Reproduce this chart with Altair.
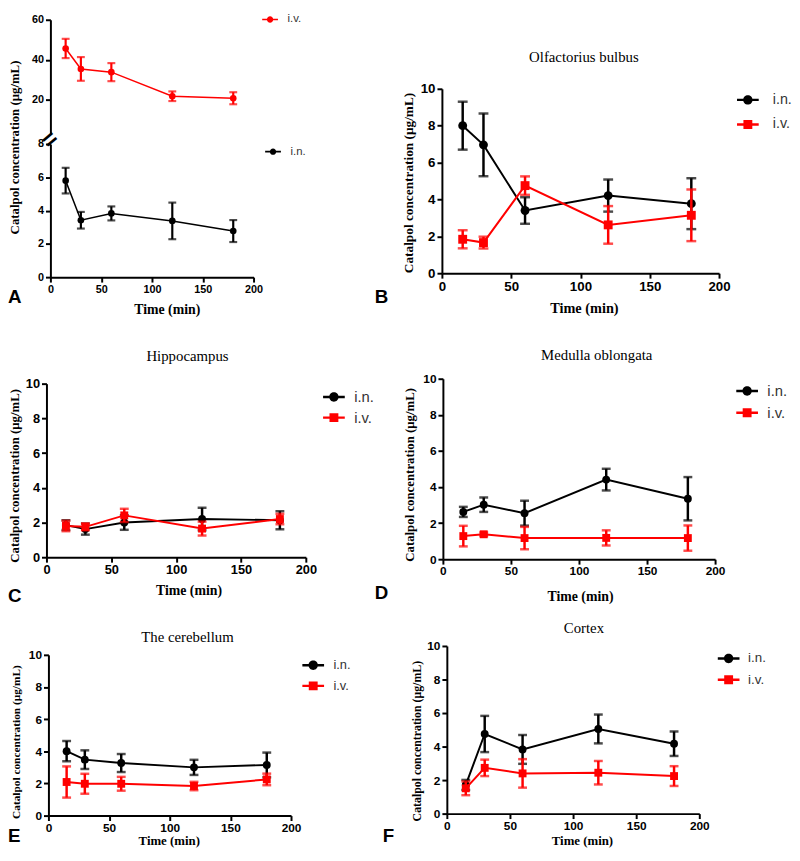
import altair as alt
import pandas as pd

# ---------------- data ----------------
times = [15, 30, 60, 120, 180]
x_ticks = [0, 50, 100, 150, 200]
y_ticks = [0, 2, 4, 6, 8, 10]
a_upper_ticks = [20, 40, 60]
a_lower_ticks = [0, 2, 4, 6, 8]
x_title = "Time (min)"
y_title = "Catalpol concentration (μg/mL)"
panel_letters = ["A", "B", "C", "D", "E", "F"]
panel_titles = ["", "Olfactorius bulbus", "Hippocampus", "Medulla oblongata", "The cerebellum", "Cortex"]

a_iv_mean = [45.7, 35.5, 33.9, 21.9, 20.9]
a_iv_sd = [4.8, 5.9, 4.5, 2.4, 3.0]
a_in_mean = [5.8, 3.42, 3.83, 3.38, 2.77]
a_in_sd = [0.77, 0.5, 0.42, 1.1, 0.66]

b_in_mean = [8.0, 6.96, 3.4, 4.21, 3.77]
b_in_sd = [1.3, 1.7, 0.72, 0.87, 1.38]
b_iv_mean = [1.84, 1.66, 4.75, 2.62, 3.14]
b_iv_sd = [0.49, 0.32, 0.5, 1.02, 1.4]

c_in_mean = [1.85, 1.62, 2.0, 2.2, 2.13]
c_in_sd = [0.28, 0.32, 0.42, 0.65, 0.52]
c_iv_mean = [1.8, 1.75, 2.41, 1.65, 2.2]
c_iv_sd = [0.3, 0.2, 0.38, 0.4, 0.3]

d_in_mean = [2.62, 3.02, 2.55, 4.41, 3.35]
d_in_sd = [0.28, 0.4, 0.69, 0.6, 1.2]
d_iv_mean = [1.28, 1.38, 1.17, 1.18, 1.17]
d_iv_sd = [0.57, 0.1, 0.62, 0.42, 0.7]

e_in_mean = [4.01, 3.48, 3.27, 3.0, 3.15]
e_in_sd = [0.63, 0.58, 0.56, 0.47, 0.77]
e_iv_mean = [2.09, 1.98, 1.98, 1.84, 2.25]
e_iv_sd = [0.97, 0.62, 0.43, 0.26, 0.36]

f_in_mean = [1.71, 4.75, 3.83, 5.05, 4.17]
f_in_sd = [0.3, 1.08, 0.86, 0.86, 0.73]
f_iv_mean = [1.51, 2.73, 2.4, 2.44, 2.24]
f_iv_sd = [0.41, 0.49, 0.85, 0.7, 0.59]

# ---------------- style ----------------
SANS = "Liberation Sans"
SERIF = "Liberation Serif"
BLACK = "#000000"
RED = "#ff0000"
W, H = 792, 845

LINE_RECT = "M-2.2,-0.24H2.2V0.24H-2.2Z"
LEG_CIRCLE = LINE_RECT + "M-0.95,0A0.95,0.95 0 1,1 0.95,0A0.95,0.95 0 1,1 -0.95,0Z"
LEG_SQUARE = LINE_RECT + "M-0.9,-0.9H0.9V0.9H-0.9Z"
A_LINE = "M-2,-0.2H2V0.2H-2Z"
A_CIRCLE = A_LINE + "M-0.8,0A0.8,0.8 0 1,1 0.8,0A0.8,0.8 0 1,1 -0.8,0Z"


def frame(mean, sd, name):
    return pd.DataFrame({"time": times, "mean": mean, "sd": sd, "series": name})


def build_panel(p):
    xr, yr = p["xr"], p["yr"]
    lfs = p.get("lfs", 12)
    if p.get("xt") is not None:
        xaxis = alt.Axis(orient="bottom", offset=yr[0] - H, values=x_ticks, title=x_title,
                         titleX=p["xt"][0], titleY=p["xt"][1], titleBaseline="middle",
                         titleAlign="center", titleFontSize=p.get("xfs", 14),
                         labelFlush=False, labelFontSize=lfs)
    else:
        xaxis = None
    xscale = alt.Scale(domain=[0, 200], range=xr, nice=False, zero=False)
    yscale = alt.Scale(domain=p["ydom"], range=yr, nice=False, zero=False)
    if p.get("yt") is not None:
        yaxis = alt.Axis(orient="left", offset=-xr[0], values=p["yticks"], title=y_title,
                         titleX=p["yt"][0], titleY=p["yt"][1], titleBaseline="middle",
                         titleAlign="center", titleAngle=270, titleFontSize=p.get("yfs", 13),
                         labelFontSize=lfs)
    else:
        yaxis = alt.Axis(orient="left", offset=-xr[0], values=p["yticks"], title=None,
                         labelFontSize=lfs)
    xenc = alt.X("time:Q", scale=xscale, axis=xaxis)

    layers = []
    for s in p["series"]:
        df = s["df"]
        err = (
            alt.Chart(df)
            .transform_calculate(lo="datum.mean - datum.sd", hi="datum.mean + datum.sd")
            .mark_errorbar(ticks=True, size=s["cap"], thickness=s["eth"], color=s["color"])
            .encode(x=xenc, y=alt.Y("lo:Q", scale=yscale, axis=yaxis), y2=alt.Y2("hi:Q"))
        )
        line = alt.Chart(df).mark_line(color=s["color"], strokeWidth=s["lw"]).encode(
            x=xenc, y=alt.Y("mean:Q", scale=yscale, axis=yaxis))
        pts = alt.Chart(df).mark_point(filled=True, opacity=1, shape=s["shape"], size=s["size"],
                                       color=s["color"]).encode(
            x=xenc, y=alt.Y("mean:Q", scale=yscale, axis=yaxis))
        layers += [err, line, pts]

    lg = p["legend"]
    leg = alt.Legend(orient="none", legendX=lg["x"], legendY=lg["y"], title=None,
                     labelFont=SANS, labelFontSize=lg["fs"], labelColor="#333333",
                     symbolSize=lg["ss"], labelOffset=lg["lo"], rowPadding=lg["rp"],
                     symbolStrokeWidth=0, symbolOpacity=1, padding=0)
    all_df = pd.concat([s["df"] for s in p["series"]])
    legend_layer = (
        alt.Chart(all_df)
        .transform_filter("false")
        .mark_point(filled=True, opacity=1)
        .encode(
            x=xenc, y=alt.Y("mean:Q", scale=yscale, axis=yaxis),
            color=alt.Color("series:N", scale=alt.Scale(domain=lg["names"], range=lg["colors"]), legend=leg),
            shape=alt.Shape("series:N", scale=alt.Scale(domain=lg["names"], range=lg["paths"]), legend=leg),
        )
    )
    layers.append(legend_layer)
    return alt.layer(*layers)


def text_layer(label, x, y, font, size, weight="normal", align="center", angle=0):
    return (
        alt.Chart(pd.DataFrame({"label": [label]}))
        .mark_text(font=font, fontSize=size, fontWeight=weight, align=align, baseline="middle",
                   color=BLACK, angle=angle)
        .encode(text="label:N", x=alt.value(x), y=alt.value(y))
    )


def in_series(mean, sd, size=81, lw=2, cap=10, eth=2.5, shape="circle"):
    return dict(df=frame(mean, sd, "i.n."), color=BLACK, shape=shape, size=size, lw=lw, cap=cap, eth=eth)


def iv_series(mean, sd, size=81, lw=2, cap=10, eth=2.5, shape="square"):
    return dict(df=frame(mean, sd, "i.v."), color=RED, shape=shape, size=size, lw=lw, cap=cap, eth=eth)


def two_legend(x, y, fs=14, rp=6, lo=13):
    return dict(names=["i.n.", "i.v."], colors=[BLACK, RED], paths=[LEG_CIRCLE, LEG_SQUARE],
                x=x, y=y, fs=fs, ss=100, lo=lo, rp=rp)


panel_a_up = build_panel(dict(
    xr=[43, 249], yr=[122, 6], ydom=[3, 60], yticks=a_upper_ticks, xt=None, yt=None, lfs=11,
    series=[iv_series(a_iv_mean, a_iv_sd, size=45, lw=1.5, cap=8, eth=2.2, shape="circle")],
    legend=dict(names=["i.v."], colors=[RED], paths=[A_CIRCLE], x=260, y=0, fs=11.5, ss=64, lo=12, rp=0),
))
panel_a_low = build_panel(dict(
    xr=[43, 249], yr=[267, 132], ydom=[0, 8], yticks=a_lower_ticks, xt=(161, 33), yt=(-36, 135), lfs=11,
    series=[in_series(a_in_mean, a_in_sd, size=45, lw=1.5, cap=8, eth=2.2)],
    legend=dict(names=["i.n."], colors=[BLACK], paths=[A_CIRCLE], x=263, y=134, fs=11.5, ss=64, lo=12, rp=0),
))
panel_b = build_panel(dict(
    xr=[440, 721], yr=[263, 76], ydom=[0, 10], yticks=y_ticks, xt=(584, 36), yt=(-34, 171), yfs=13.5,
    xfs=14.5, lfs=13.5,
    series=[in_series(b_in_mean, b_in_sd), iv_series(b_iv_mean, b_iv_sd)],
    legend=two_legend(743, 80, fs=14.5, rp=10, lo=18),
))
panel_c = build_panel(dict(
    xr=[39, 302], yr=[551, 375], ydom=[0, 10], yticks=y_ticks, xt=(183, 34), yt=(-32, 468), lfs=13,
    series=[in_series(c_in_mean, c_in_sd, size=64, cap=9), iv_series(c_iv_mean, c_iv_sd, size=64, cap=9)],
    legend=two_legend(323, 381, fs=15, rp=5, lo=13),
))
panel_d = build_panel(dict(
    xr=[441, 717], yr=[553, 370], ydom=[0, 10], yticks=y_ticks, xt=(580, 38), yt=(-34, 467),
    series=[in_series(d_in_mean, d_in_sd, size=64, cap=9), iv_series(d_iv_mean, d_iv_sd, size=64, cap=9)],
    legend=two_legend(742, 375, fs=15, rp=6, lo=13),
))
panel_e = build_panel(dict(
    xr=[41, 287], yr=[813, 650], ydom=[0, 10], yticks=y_ticks, xt=(163, 25), yt=(-32, 738), yfs=11.5,
    xfs=13,
    series=[in_series(e_in_mean, e_in_sd, size=64, cap=9), iv_series(e_iv_mean, e_iv_sd, size=64, cap=9)],
    legend=two_legend(303, 654, fs=13, rp=7, lo=14),
))
panel_f = build_panel(dict(
    xr=[445, 701], yr=[811, 641], ydom=[0, 10], yticks=y_ticks, xt=(582, 27), yt=(-31, 737), yfs=12,
    xfs=13,
    series=[in_series(f_in_mean, f_in_sd, size=64, cap=9), iv_series(f_iv_mean, f_iv_sd, size=64, cap=9)],
    legend=two_legend(724, 647, fs=13.5, rp=6.5, lo=13),
))

decor = [
    text_layer(panel_letters[0], 0, 287, SANS, 19, "bold", "left"),
    text_layer(panel_letters[1], 372, 287, SANS, 19, "bold", "left"),
    text_layer(panel_letters[2], 0, 590, SANS, 19, "bold", "left"),
    text_layer(panel_letters[3], 372, 587, SANS, 19, "bold", "left"),
    text_layer(panel_letters[4], 0, 834, SANS, 19, "bold", "left"),
    text_layer(panel_letters[5], 380, 834, SANS, 19, "bold", "left"),
    text_layer(panel_titles[1], 584, 44, SERIF, 15),
    text_layer(panel_titles[2], 182, 347, SERIF, 15),
    text_layer(panel_titles[3], 597, 346, SERIF, 15),
    text_layer(panel_titles[4], 182, 632, SERIF, 15),
    text_layer(panel_titles[5], 584, 623, SERIF, 15),
    text_layer("=", 43, 128, SANS, 24, "bold", "center", 320),
]

chart = (
    alt.layer(panel_a_up, panel_a_low, panel_b, panel_c, panel_d, panel_e, panel_f, *decor)
    .resolve_scale(x="independent", y="independent", color="independent", shape="independent")
    .properties(width=W, height=H, padding={"left": 0, "top": 0, "right": 0, "bottom": 0})
    .configure_view(stroke=None)
    .configure_axis(grid=False, domainColor=BLACK, domainWidth=2, tickColor=BLACK, tickWidth=2,
                    tickSize=5, labelFont=SANS, labelFontWeight="bold", labelColor=BLACK,
                    labelPadding=2, titleFont=SERIF, titleFontWeight="bold", titleColor=BLACK)
)

chart.save("out.html", embed_options={"renderer": "svg", "actions": False})
